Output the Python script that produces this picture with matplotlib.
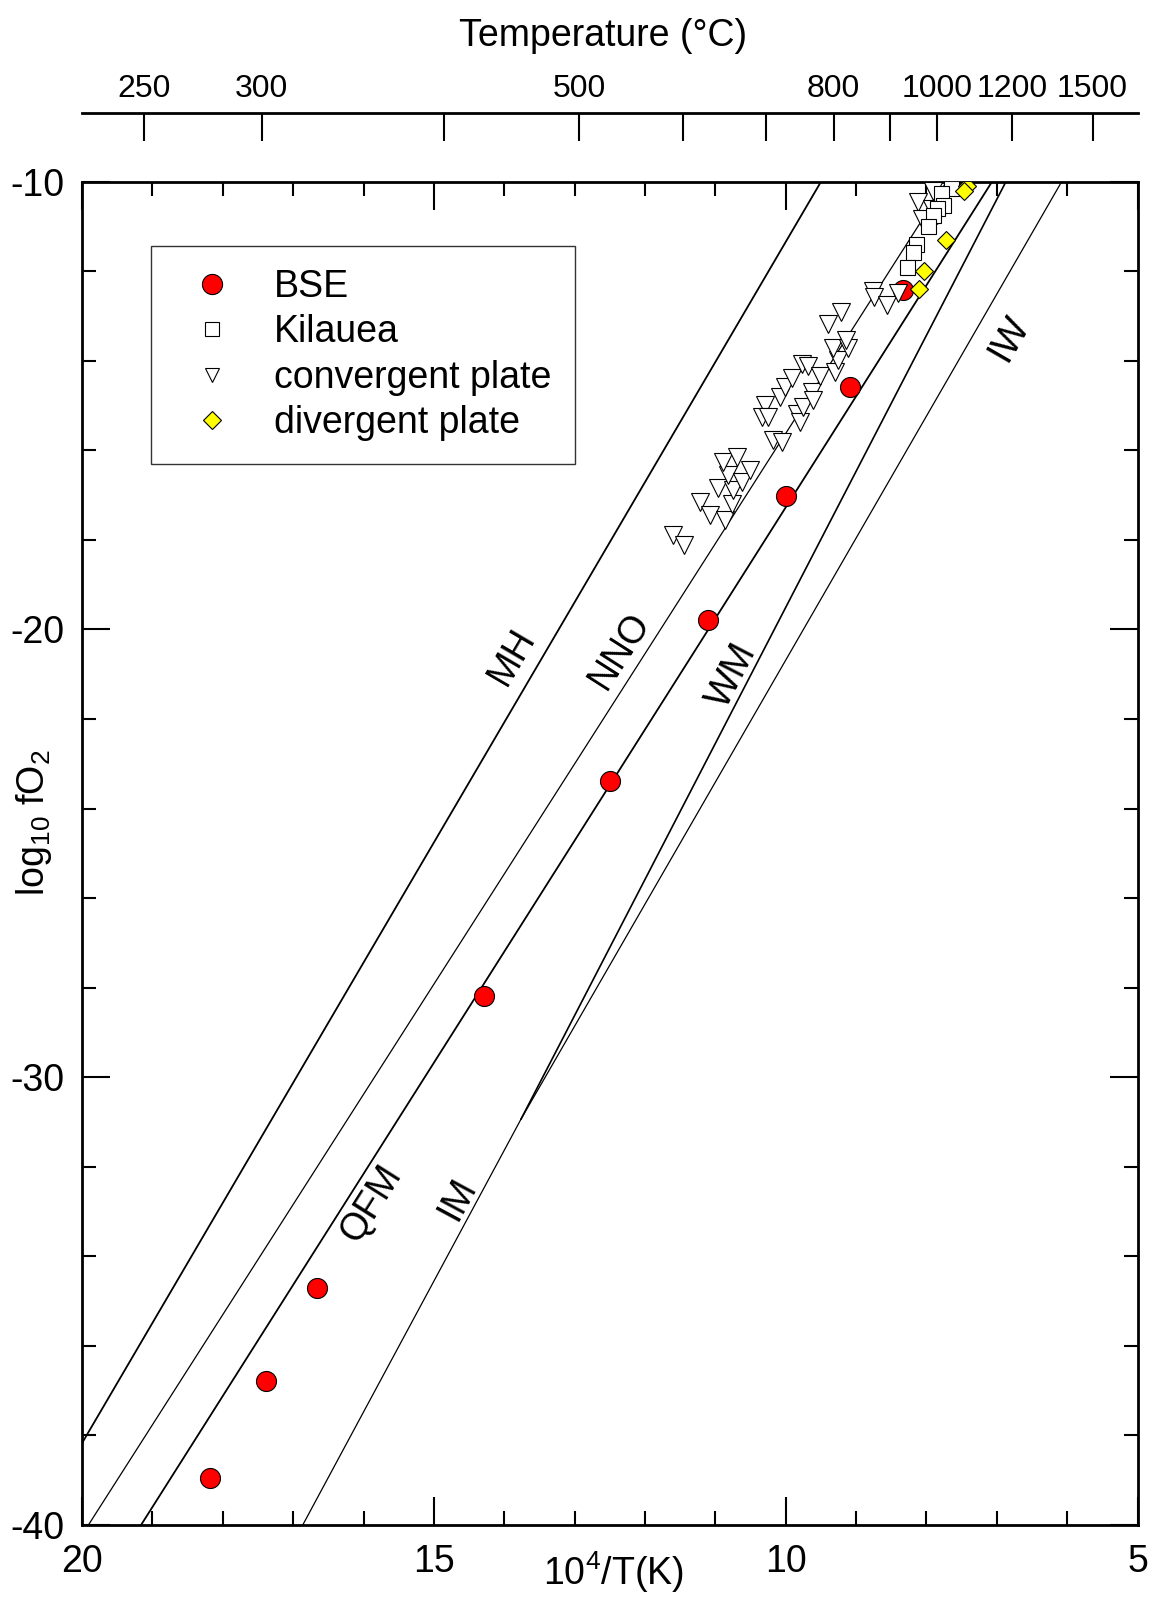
import numpy as np
import matplotlib
matplotlib.use('Agg')
import matplotlib.pyplot as plt
from matplotlib.lines import Line2D
from matplotlib.ticker import MultipleLocator, NullLocator

plt.rcParams['font.family'] = ['Liberation Sans', 'DejaVu Sans']
plt.rcParams['mathtext.fontset'] = 'custom'
plt.rcParams['mathtext.rm'] = 'Liberation Sans'
plt.rcParams['mathtext.default'] = 'regular'
plt.rcParams['axes.unicode_minus'] = False

# ---------------------------------------------------------------------------
# Data  (x = 10^4/T(K), y = log10 fO2)
# ---------------------------------------------------------------------------
# buffer lines, end points
MH_x = [20.0, 9.498];   MH_y = [-38.17, -10.0]
NNO_x = [19.91, 7.714]; NNO_y = [-40.0, -10.0]
QFM_x = [19.162, 7.067]; QFM_y = [-40.0, -10.0]
IM_x = [16.864, 13.76]; IM_y = [-40.0, -30.93]
WM_x = [13.76, 6.870];  WM_y = [-30.93, -10.0]
IW_x = [13.76, 6.078];  IW_y = [-30.93, -10.0]

buffer_names = ['MH', 'NNO', 'QFM', 'IM', 'WM', 'IW']
buffer_lw = [1.3, 0.9, 1.3, 0.9, 1.2, 0.9]
# label positions (data coords)
label_x = [13.889, 12.355, 15.893, 14.657, 10.753, 6.821]
label_y = [-20.60, -20.48, -32.83, -32.72, -21.04, -13.50]

# BSE, temperature in K
bse_T = [550, 575, 600, 700, 800, 900, 1000, 1100, 1200]
bse_fo2 = [-38.95, -36.79, -34.71, -28.19, -23.39, -19.79, -17.02, -14.58, -12.41]

kil_x = [7.651, 7.793, 7.765, 7.850, 7.907, 7.978, 8.148, 8.191, 8.276]
kil_y = [-10.15, -10.26, -10.52, -10.59, -10.75, -10.99, -11.40, -11.57, -11.91]

conv_x = [11.606, 11.441, 11.218, 11.076, 10.863, 10.958, 10.767, 10.745, 10.816,
          10.625, 10.507, 10.887, 10.696, 10.176, 10.057, 10.294, 10.341, 10.247,
          10.081, 10.010, 9.915, 9.844, 9.797, 9.750, 9.631, 9.616, 9.773, 9.679,
          9.513, 9.299, 9.261, 9.324, 9.110, 9.143, 9.395, 9.218, 8.755, 8.745,
          8.556, 8.408, 8.116, 7.902, 8.067, 7.846, 7.925]
conv_y = [-17.89, -18.12, -17.15, -17.45, -17.56, -16.85, -17.19, -16.89, -16.55,
          -16.70, -16.44, -16.26, -16.15, -15.77, -15.81, -14.99, -15.25, -15.25,
          -14.81, -14.58, -14.39, -15.18, -15.36, -15.03, -14.69, -14.88, -14.08,
          -14.12, -14.34, -14.25, -13.99, -13.72, -13.72, -13.54, -13.17, -12.91,
          -12.44, -12.57, -12.76, -12.48, -10.45, -10.21, -10.84, -10.75, -10.62]

div_x = [7.424, 7.462, 7.726, 8.030, 8.101]
div_y = [-10.09, -10.21, -11.31, -11.99, -12.40]

top_ticks = [250, 300, 400, 500, 600, 700, 800, 900, 1000, 1200, 1500]
top_labels = ['250', '300', '', '500', '', '', '800', '', '1000', '1200', '1500']

FS = 27

# ---------------------------------------------------------------------------
# Figure
# ---------------------------------------------------------------------------
fig = plt.figure(figsize=(11.59, 16.07), dpi=100)
ax = fig.add_axes([0.0708, 0.0510, 0.9107, 0.8360])
ax.set_xlim(20, 5)
ax.set_ylim(-40, -10)

buffers = [(MH_x, MH_y), (NNO_x, NNO_y), (QFM_x, QFM_y),
           (IM_x, IM_y), (WM_x, WM_y), (IW_x, IW_y)]
for (bx, by), lw in zip(buffers, buffer_lw):
    ax.plot(bx, by, color='black', lw=lw, zorder=2)

# labels rotated along their lines
for (bx, by), name, lx, ly in zip(buffers, buffer_names, label_x, label_y):
    p = ax.transData.transform(np.column_stack([bx, by]))
    ang = np.degrees(np.arctan2(p[1, 1] - p[0, 1], p[1, 0] - p[0, 0]))
    ax.text(lx, ly, name, fontsize=FS, rotation=ang, rotation_mode='anchor',
            ha='center', va='center', zorder=3)

bse_x = [1e4 / t for t in bse_T]
ax.plot(bse_x, bse_fo2, ls='none', marker='o', ms=14.4, mfc='red',
        mec='black', mew=0.8, zorder=4)
ax.plot(conv_x, conv_y, ls='none', marker='v', ms=12.5, mfc='white',
        mec='black', mew=0.8, zorder=5)
ax.plot(kil_x, kil_y, ls='none', marker='s', ms=10.8, mfc='white',
        mec='black', mew=0.8, zorder=6)
ax.plot(div_x, div_y, ls='none', marker='D', ms=9.2, mfc='yellow',
        mec='black', mew=0.8, zorder=7)

# axes styling
for s in ax.spines.values():
    s.set_linewidth(2)
ax.xaxis.set_major_locator(MultipleLocator(5))
ax.xaxis.set_minor_locator(MultipleLocator(1))
ax.yaxis.set_major_locator(MultipleLocator(10))
ax.yaxis.set_minor_locator(MultipleLocator(2))
ax.tick_params(which='both', direction='in', top=True, right=True, width=1.5)
ax.tick_params(which='major', length=20)
ax.tick_params(which='minor', length=10)
ax.tick_params(axis='x', labelsize=FS, pad=14)
ax.tick_params(axis='y', labelsize=FS, pad=13)

# temperature axis on top
def k2c(x):
    x = np.asarray(x, dtype=float)
    with np.errstate(divide='ignore', invalid='ignore'):
        return 1e4 / x - 273.15

def c2k(t):
    t = np.asarray(t, dtype=float)
    with np.errstate(divide='ignore', invalid='ignore'):
        return 1e4 / (t + 273.15)

secax = ax.secondary_xaxis(1.0512, functions=(k2c, c2k))
secax.set_xticks(top_ticks)
secax.set_xticklabels(top_labels)
secax.xaxis.set_minor_locator(NullLocator())
secax.tick_params(direction='in', length=20, width=1.5, labelsize=23, pad=6.6)
secax.spines['top'].set_linewidth(2)

fig.text(0.52, 1 - 36 / 1607, 'Temperature (°C)', fontsize=FS,
         ha='center', va='center')
fig.text(0.529, 1 - 1572 / 1607, '$10^4$/T(K)', fontsize=FS,
         ha='center', va='center')
fig.text(34 / 1159, 1 - 823 / 1607, 'log$_{10}$ fO$_2$', fontsize=27,
         rotation=90, ha='center', va='center')

# legend
handles = [
    Line2D([], [], ls='none', marker='o', ms=14.5, mfc='red', mec='black', mew=0.8),
    Line2D([], [], ls='none', marker='s', ms=9.4, mfc='white', mec='black', mew=0.8),
    Line2D([], [], ls='none', marker='v', ms=9.6, mfc='white', mec='black', mew=0.8),
    Line2D([], [], ls='none', marker='D', ms=9.2, mfc='yellow', mec='black', mew=0.8),
]
leg = ax.legend(handles, ['BSE', 'Kilauea', 'convergent plate', 'divergent plate'],
                loc='upper left', bbox_to_anchor=(0.0651, 0.9522), fontsize=FS,
                frameon=True, fancybox=False, borderpad=0.62, labelspacing=0.25,
                handlelength=2.04, handletextpad=0.63, borderaxespad=0)
leg.get_frame().set_edgecolor('black')
leg.get_frame().set_linewidth(1)

fig.savefig('out.png', dpi=100)
